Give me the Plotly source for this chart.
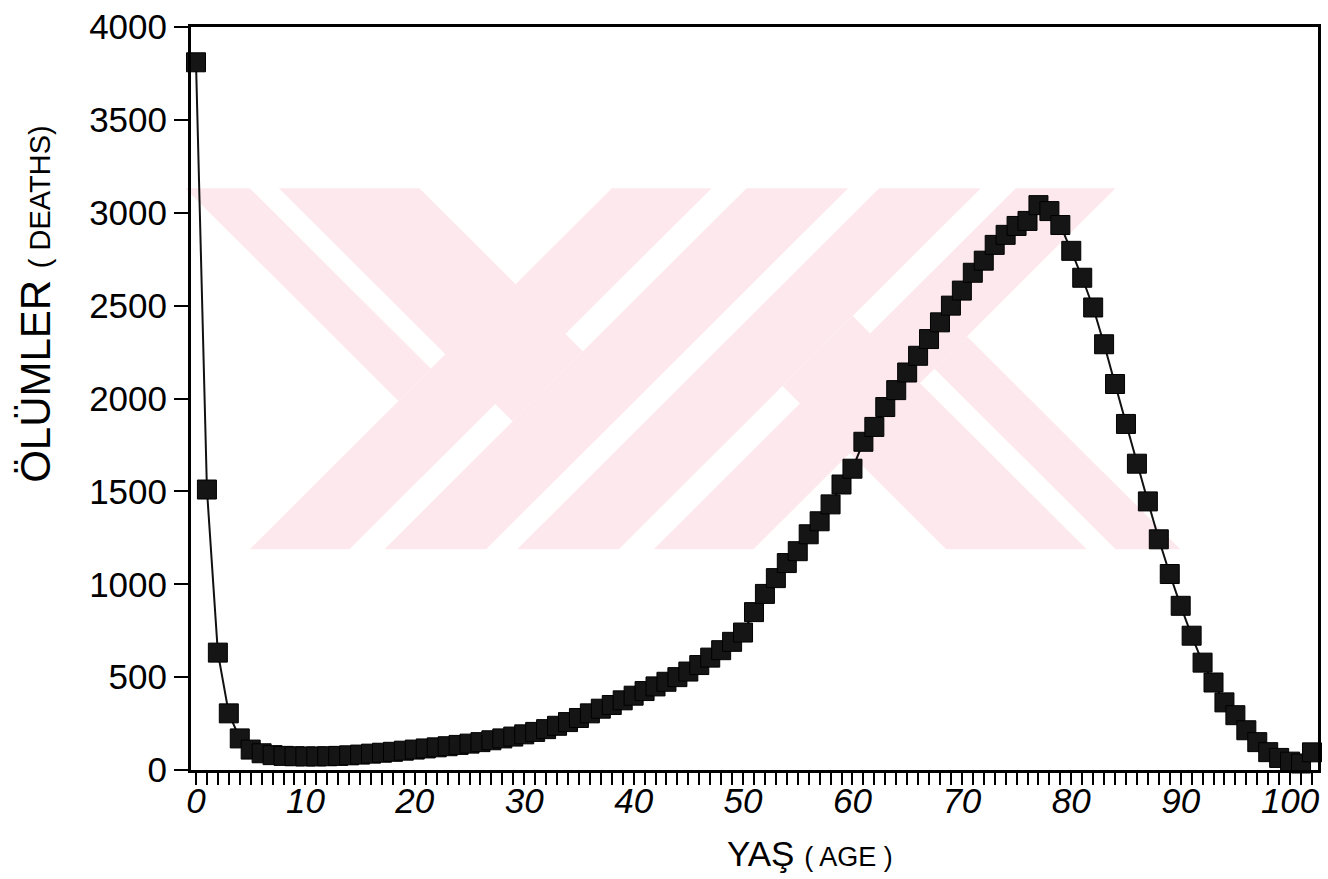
import plotly.graph_objects as go

# Deaths by single year of age
ages = list(range(0, 103))
deaths = [
    3810, 1510, 632, 305, 170, 110, 90, 80, 76, 74,
    73, 73, 74, 76, 79, 83, 88, 93, 98, 104,
    110, 116, 122, 128, 135, 142, 150, 160, 170, 180,
    192, 205, 220, 238, 258, 280, 305, 330, 350, 375,
    400, 425, 450, 475, 500, 530, 565, 605, 645, 690,
    740, 850, 948, 1033, 1114, 1178, 1269, 1339, 1430, 1537,
    1622, 1767, 1847, 1954, 2045, 2140, 2230, 2320, 2410, 2500,
    2581, 2677, 2742, 2827, 2881, 2929, 2956, 3041, 3009, 2934,
    2795, 2650, 2490, 2292, 2078, 1863, 1649, 1446, 1242, 1055,
    884, 723, 578, 471, 364, 295, 214, 150, 96, 65,
    45, 35, 95,
]

x_major = list(range(0, 101, 10))
y_ticks = list(range(0, 4001, 500))

FONT = "Liberation Sans, Arial, sans-serif"
W, H = 1328, 879
ML, MR, MT, MB = 191, 7, 23, 109
PW, PH = W - ML - MR, H - MT - MB

fig = go.Figure()
fig.add_trace(go.Scatter(
    x=ages, y=deaths,
    mode="lines+markers",
    line=dict(color="#111111", width=2),
    marker=dict(symbol="square", size=19, color="#151515",
                line=dict(color="#000000", width=1)),
    cliponaxis=False,
    showlegend=False,
))


# Pale background emblem: slanted bands, point-symmetric about its centre
def px(x):
    return (x - ML) / PW


def py(y):
    return (H - MB - y) / PH


TOP, BOT = 185, 548
CX2, CY2 = 1368, TOP + BOT  # twice the centre of symmetry

left_parts = [
    # rising stripes
    [(250, BOT), (350, BOT), (713, TOP), (613, TOP)],
    [(385, BOT), (487, BOT), (850, TOP), (748, TOP)],
    # thin upper arm of the outer chevron
    [(185, TOP), (250, TOP), (431.5, 366.5), (399, 399)],
    # wide falling band ending on the second stripe
    [(279, TOP), (420, TOP), (584, 349), (513.5, 419.5)],
]
parts = left_parts + [[(CX2 - x, CY2 - y) for x, y in poly] for poly in left_parts]

for poly in parts:
    path = "M " + " L ".join(f"{px(x)},{py(y)}" for x, y in poly) + " Z"
    fig.add_shape(type="path", path=path, xref="paper", yref="paper",
                  fillcolor="#fde9ed", line=dict(width=0), layer="below")

fig.update_layout(
    width=W, height=H,
    margin=dict(l=ML, r=MR, t=MT, b=MB),
    paper_bgcolor="white", plot_bgcolor="rgba(0,0,0,0)",
    font=dict(family=FONT, color="black"),
)

fig.update_xaxes(
    range=[-0.456, 102.55],
    tickmode="array", tickvals=x_major, ticktext=[str(v) for v in x_major],
    ticks="outside", ticklen=12, tickwidth=2, tickcolor="black",
    minor=dict(dtick=1, tick0=0, ticks="outside", ticklen=12, tickwidth=2, tickcolor="black"),
    tickfont=dict(family=FONT, size=35, style="italic", color="black"),
    ticklabelstandoff=-14, ticklabeloverflow="allow",
    showline=True, linecolor="black", linewidth=3, mirror=True,
    showgrid=False, zeroline=False,
)
fig.update_yaxes(
    range=[0, 4000],
    tickmode="array", tickvals=y_ticks, ticktext=[str(v) for v in y_ticks],
    ticks="outside", ticklen=14, tickwidth=2, tickcolor="black",
    tickfont=dict(family=FONT, size=35, color="black"),
    showline=True, linecolor="black", linewidth=3, mirror=True,
    showgrid=False, zeroline=False,
)

# Axis titles
fig.add_annotation(
    xref="paper", yref="paper", x=0.549, y=-0.112, yanchor="middle", xanchor="center",
    text="YAŞ <span style='font-size:27px'>( AGE )</span>",
    showarrow=False, font=dict(family=FONT, size=35, color="black"),
)
fig.add_annotation(
    xref="paper", yref="paper", x=-0.138, y=0.628, xanchor="center", yanchor="middle",
    textangle=-90,
    text="ÖLÜMLER <span style='font-size:29px'>( DEATHS)</span>",
    showarrow=False, font=dict(family=FONT, size=42, color="black"),
)

fig.write_html("out.html")
